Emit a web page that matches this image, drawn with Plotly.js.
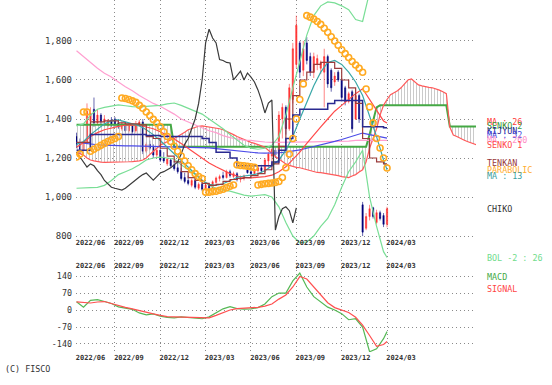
<!DOCTYPE html>
<html><head><meta charset="utf-8">
<script src="https://cdn.plot.ly/plotly-3.0.1.min.js"></script>
<style>html,body{margin:0;padding:0;background:#fff}#chart{width:552px;height:385px}</style>
</head><body><div id="chart"></div>
<script>
// ---------- tick labels ----------
const tickWeeks = [0, 11, 24, 37, 50, 63, 76, 89];
const tickLabels = ["2022/06","2022/09","2022/12","2023/03","2023/06","2023/09","2023/12","2024/03"];
const priceTicks = [800, 1000, 1200, 1400, 1600, 1800];
const priceTickText = ["800","1,000","1,200","1,400","1,600","1,800"];
const macdTicks = [-140, -70, 0, 70, 140];
const macdTickText = ["-140","-70","0","70","140"];

// ---------- weekly candles (week 0 .. 89) ----------
const candleOpen = [1310,1270,1240,1280,1390,1450,1380,1420,1385,1365,1395,1400,1380,1350,1375,1340,1365,1340,1370,1385,
1235,1270,1255,1215,1240,1200,1170,1190,1165,1150,1130,1100,1085,1060,1085,1045,1065,1040,1062,1045,
1075,1095,1110,1100,1130,1105,1120,1090,1098,1140,1130,1120,1135,1150,1130,1185,1210,1240,1220,1400,
1460,1350,1500,1680,1790,1650,1790,1720,1640,1680,1660,1640,1720,1650,1590,1640,1600,1560,1490,1540,
1400,1520,960,840,900,945,870,920,905,860];
const candleHigh = [1330,1300,1290,1480,1460,1510,1450,1430,1420,1400,1410,1410,1400,1390,1385,1380,1375,1390,1395,1400,
1280,1290,1270,1250,1245,1230,1200,1200,1185,1175,1150,1125,1110,1095,1098,1075,1085,1070,1072,1085,
1105,1115,1130,1140,1140,1130,1128,1110,1115,1150,1150,1145,1160,1165,1200,1230,1250,1255,1440,1480,
1470,1580,1790,1930,1800,1800,1820,1740,1740,1730,1700,1760,1730,1660,1640,1650,1610,1570,1540,1550,
1550,1530,975,918,960,950,935,930,918,950];
const candleLow = [1250,1225,1220,1270,1370,1360,1370,1370,1360,1355,1360,1360,1350,1340,1330,1330,1325,1330,1360,1220,
1225,1240,1200,1205,1180,1175,1160,1150,1135,1120,1085,1070,1060,1050,1040,1036,1030,1032,1030,1040,
1070,1080,1090,1095,1100,1098,1080,1075,1085,1120,1110,1110,1120,1125,1120,1150,1160,1200,1210,1300,
1320,1340,1480,1660,1610,1620,1680,1620,1610,1650,1630,1460,1560,1540,1570,1590,1490,1470,1480,1330,
1395,1380,800,830,880,890,860,880,846,845];
const candleClose = [1270,1245,1280,1440,1430,1380,1420,1385,1400,1390,1370,1370,1360,1375,1340,1365,1335,1370,1385,1235,
1270,1250,1215,1240,1190,1185,1195,1160,1145,1130,1095,1080,1070,1085,1050,1065,1040,1062,1045,1078,
1098,1105,1100,1130,1110,1120,1090,1100,1108,1125,1120,1140,1150,1135,1190,1220,1245,1215,1420,1460,
1350,1560,1760,1880,1640,1760,1700,1640,1720,1710,1690,1720,1580,1560,1620,1600,1510,1490,1530,1350,
1520,1400,820,900,940,900,920,890,860,940];
const candleWeeks = candleClose.map((_, i) => i);

// ---------- indicator lines, sampled every 2 weeks (weeks 0..88, then 89) ----------
const lineWeeks = [0,2,4,6,8,10,12,14,16,18,20,22,24,26,28,30,32,34,36,38,40,42,44,46,48,50,52,54,56,58,60,62,64,66,68,70,72,74,76,78,80,82,84,86,88,89];
const ma260 = [1750,1720,1690,1660,1635,1615,1590,1565,1545,1520,1500,1480,1465,1445,1425,1400,1385,1370,1355,1340,1330,1315,1305,1298,1292,1290,1285,1282,1280,1280,1280,1280,1282,1283,1283,1284,1284,1285,1285,1287,1290,1292,1290,1290,1290,1290];
const ma52 = [1280,1275,1270,1268,1266,1264,1262,1262,1262,1261,1260,1260,1260,1259,1258,1258,1257,1256,1255,1252,1248,1244,1240,1236,1232,1229,1226,1225,1225,1227,1230,1235,1242,1250,1258,1266,1275,1285,1295,1305,1316,1328,1320,1312,1304,1302];
const ma26 = [1255,1280,1310,1330,1345,1355,1362,1368,1370,1368,1360,1350,1335,1318,1298,1275,1250,1225,1200,1175,1155,1138,1120,1108,1100,1098,1100,1105,1112,1130,1155,1190,1230,1275,1320,1360,1400,1440,1470,1500,1530,1555,1500,1440,1390,1380];
const ma13 = [1270,1285,1320,1350,1375,1390,1395,1385,1375,1365,1345,1320,1290,1255,1220,1190,1150,1115,1085,1065,1060,1068,1085,1100,1108,1112,1120,1135,1160,1190,1240,1310,1400,1490,1570,1640,1690,1700,1680,1640,1590,1520,1420,1310,1190,1140];
const tenkan = [1280,1280,1385,1385,1390,1390,1380,1375,1375,1370,1310,1300,1250,1210,1180,1130,1100,1085,1070,1060,1065,1080,1090,1095,1100,1110,1120,1140,1170,1260,1400,1520,1600,1640,1680,1690,1690,1660,1600,1560,1480,1300,1200,1180,1170,1170];
const kijun = [1240,1240,1320,1320,1320,1320,1320,1320,1320,1320,1315,1315,1310,1310,1310,1310,1310,1310,1300,1280,1230,1230,1200,1160,1160,1160,1160,1160,1180,1240,1300,1420,1450,1450,1450,1450,1480,1495,1495,1495,1495,1360,1360,1360,1355,1355];
const bolUpper = [1365,1375,1420,1450,1460,1465,1472,1468,1463,1462,1465,1467,1470,1478,1482,1470,1455,1440,1425,1400,1375,1350,1320,1290,1265,1250,1245,1250,1265,1310,1420,1560,1700,1830,1930,1980,2000,1995,1980,1960,1910,1900,2050,2150,2250,2300];
const bolLower = [1045,1045,1048,1050,1060,1085,1115,1130,1145,1165,1190,1200,1205,1200,1195,1165,1140,1115,1085,1060,1045,1035,1030,1020,1010,1005,1010,1012,1000,950,870,800,765,770,800,850,890,960,1050,1130,1180,1240,1000,850,720,690];

// ---------- ichimoku cloud, weekly incl. 26 weeks ahead (weeks 0..115) ----------
const senko1 = [1230,1222,1215,1200,1190,1185,1180,1179,1178,1178,1178,1179,1180,1180,1180,1181,1182,1183,1185,1190,
1200,1218,1235,1250,1265,1275,1285,1292,1300,1310,1320,1332,1345,1352,1360,1363,1365,1362,1360,1358,
1355,1350,1345,1338,1330,1320,1310,1302,1295,1288,1280,1275,1270,1262,1255,1238,1220,1208,1195,1182,
1170,1162,1155,1152,1150,1145,1140,1134,1128,1126,1125,1122,1120,1118,1115,1110,1105,1102,1100,1108,
1115,1128,1140,1180,1250,1300,1350,1420,1470,1500,1525,1535,1545,1560,1580,1600,1605,1590,1575,1570,
1565,1562,1560,1555,1548,1540,1530,1359,1318,1310,1300,1292,1285,1278,1270,1265];
const senko2 = [1370,1370,1370,1370,1370,1370,1370,1370,1370,1370,1370,1370,1370,1370,1370,1370,1370,1370,1370,1370,
1370,1370,1370,1370,1370,1370,1370,1370,1258,1258,1258,1258,1258,1258,1258,1258,1258,1258,1258,1258,
1258,1258,1258,1258,1258,1258,1258,1258,1258,1258,1258,1258,1258,1258,1258,1258,1258,1258,1258,1258,
1258,1258,1258,1258,1258,1258,1258,1258,1258,1258,1258,1258,1258,1258,1258,1258,1258,1258,1258,1258,
1258,1258,1258,1258,1320,1390,1460,1470,1470,1470,1470,1470,1470,1470,1470,1470,1470,1470,1470,1470,
1470,1470,1470,1470,1470,1470,1470,1362,1362,1362,1362,1362,1362,1362,1362,1362];
const cloudWeeks = senko1.map((_, i) => i);

// ---------- parabolic SAR, weekly (weeks 0..89) ----------
const parabolic = [1205,1220,1436,1436,1235,1245,1255,1265,1275,1285,1293,1300,1310,1508,1505,1500,1493,1485,1470,1455,
1436,1418,1398,1380,1360,1335,1310,1285,1260,1235,1210,1185,1160,1140,1120,1105,1095,1025,1025,1028,
1030,1035,1040,1048,1055,1062,1165,1162,1160,1158,1155,1152,1062,1065,1068,1070,1072,1075,1080,1100,
1150,1220,1300,1400,1500,1580,1930,1922,1912,1900,1885,1865,1845,1822,1800,1778,1755,1735,1715,1695,
1677,1660,1640,1554,1462,1380,1300,1251,1200,1149];

// ---------- chiko span, weekly (weeks 0..63) ----------
const chiko = [1231,1205,1180,1154,1170,1160,1135,1115,1085,1065,1050,1045,1040,1036,1045,1060,1072,1090,1103,1115,
1123,1105,1087,1105,1123,1130,1138,1150,1165,1180,1220,1270,1300,1350,1400,1480,1600,1790,1860,1815,
1790,1705,1700,1690,1687,1600,1625,1645,1600,1636,1615,1590,1549,1497,1431,1482,1497,831,900,940,
950,930,868,944];
const chikoWeeks = chiko.map((_, i) => i);

// ---------- MACD panel (every 2 weeks) ----------
const macd = [34,12,40,43,35,27,13,9,3,-12,-20,-16,-25,-30,-32,-28,-31,-36,-36,-28,-10,5,14,6,4,5,10,25,55,70,70,120,152,95,55,32,12,0,-15,-40,-36,-70,-172,-160,-118,-89];
const signal = [34,30,29,33,35,27,18,11,5,-3,-9,-16,-22,-27,-28,-29,-29,-30,-32,-32,-22,-10,0,6,8,8,11,16,25,45,62,95,138,128,95,62,30,10,0,-10,-30,-62,-105,-150,-142,-130];

// ---------- end labels ----------
const endLabels = [
  {text: "MA : 26",   color: "#ff3b3b", y: 1384},
  {text: "SENKO 2",   color: "#3a9a3a", y: 1362},
  {text: "KIJYUN",    color: "#2b2b8f", y: 1340},
  {text: "MA : 52",   color: "#4b4be0", y: 1317},
  {text: "MA : 260",  color: "#ff8fc8", y: 1294},
  {text: "SENKO 1",   color: "#ff4a4a", y: 1266},
  {text: "TENKAN",    color: "#993838", y: 1176},
  {text: "PARABOLIC", color: "#ffad2e", y: 1140},
  {text: "MA : 13",   color: "#3a9f9f", y: 1106},
  {text: "CHIKO",     color: "#333333", y: 938},
  {text: "BOL -2 : 26", color: "#6fdc8c", y: 687}
];
const macdLabels = [
  {text: "MACD", color: "#44aa44", y: 136},
  {text: "SIGNAL", color: "#ff4444", y: 86}
];

const MONO = "DejaVu Sans Mono";
const lw = 1.2;
function line(x, y, color, extra) {
  return Object.assign({type: "scatter", mode: "lines", x: x, y: y, xaxis: "x", yaxis: "y",
    line: {color: color, width: lw}, hoverinfo: "skip"}, extra || {});
}

const traces = [
  line(cloudWeeks, senko2, "#44a844", {line: {color: "#44a844", width: 2}}),
  line(cloudWeeks, senko1, "#ff5a5a", {fill: "tonexty", fillcolor: "rgba(0,0,0,0)",
    fillpattern: {shape: "|", size: 3, solidity: 0.25, fgcolor: "#b8b8b8", bgcolor: "rgba(0,0,0,0)"}}),
  line(lineWeeks, ma260, "#ff9fd0"),
  line(lineWeeks, ma52, "#4b4be8"),
  line(lineWeeks, bolUpper, "#79de96"),
  line(lineWeeks, bolLower, "#79de96"),
  line(lineWeeks, ma26, "#ff4a4a"),
  line(lineWeeks, ma13, "#3aa8a8"),
  line(lineWeeks, tenkan, "#9a3c3c", {line: {color: "#9a3c3c", width: lw, shape: "hv"}}),
  line(lineWeeks, kijun, "#2a2a90", {line: {color: "#2a2a90", width: 1.5, shape: "hv"}}),
  line(chikoWeeks, chiko, "#3a3a3a"),
  {type: "candlestick", x: candleWeeks, open: candleOpen, high: candleHigh, low: candleLow, close: candleClose,
   xaxis: "x", yaxis: "y", whiskerwidth: 0, hoverinfo: "skip",
   increasing: {line: {color: "#ff3030", width: 0.6}, fillcolor: "#ff3030"},
   decreasing: {line: {color: "#00007a", width: 0.6}, fillcolor: "#00007a"}},
  {type: "scatter", mode: "markers", x: candleWeeks, y: parabolic, xaxis: "x", yaxis: "y", hoverinfo: "skip",
   marker: {symbol: "circle-open", size: 6, color: "#ffaa22", line: {width: 1.6, color: "#ffaa22"}}},
  {type: "scatter", mode: "lines", x: lineWeeks, y: macd, xaxis: "x2", yaxis: "y2", hoverinfo: "skip",
   line: {color: "#55b855", width: lw}},
  {type: "scatter", mode: "lines", x: lineWeeks, y: signal, xaxis: "x2", yaxis: "y2", hoverinfo: "skip",
   line: {color: "#ff5050", width: lw}}
];

const xRange = [-0.15, 114.5];
const grid = {showgrid: true, gridcolor: "#8a8a8a", griddash: "1px,3px", gridwidth: 1, zeroline: false, showline: false, ticks: ""};
const xFont = {family: MONO, size: 7, color: "#333", weight: "bold"};
const splitFrac = 82 / 352;

const annotations = endLabels.map(l => ({xref: "paper", yref: "y", x: 1.0225, y: l.y, xanchor: "left", yanchor: "middle",
  text: l.text, showarrow: false, font: {family: MONO, size: 8.4, color: l.color}}))
  .concat(macdLabels.map(l => ({xref: "paper", yref: "y2", x: 1.0225, y: l.y, xanchor: "left", yanchor: "middle",
  text: l.text, showarrow: false, font: {family: MONO, size: 8.4, color: l.color}})))
  .concat([{xref: "paper", yref: "paper", x: -0.1825, y: -0.048, xanchor: "left", yanchor: "middle",
  text: "(C) FISCO", showarrow: false, font: {family: MONO, size: 8.4, color: "#333"}}]);

const layout = {
  width: 552, height: 385, margin: {l: 76, r: 76, t: 0, b: 33},
  paper_bgcolor: "#fff", plot_bgcolor: "#fff", showlegend: false, boxgap: 0.5,
  xaxis: Object.assign({range: xRange, domain: [0, 1], anchor: "y", tickvals: tickWeeks, ticktext: tickLabels,
    showticklabels: false, rangeslider: {visible: false}}, grid),
  xaxis3: {range: xRange, overlaying: "x", anchor: "free", position: 0.327, tickvals: tickWeeks, ticktext: tickLabels,
    showgrid: false, zeroline: false, showline: false, ticks: "", tickfont: xFont, ticklabelshift: 14},
  xaxis2: Object.assign({range: xRange, domain: [0, 1], anchor: "y2", tickvals: tickWeeks, ticktext: tickLabels,
    tickfont: xFont, ticklabelshift: 14}, grid),
  xaxis4: {range: xRange, overlaying: "x2", anchor: "y2", side: "top", tickvals: tickWeeks, ticktext: tickLabels,
    showgrid: false, zeroline: false, showline: false, ticks: "", tickfont: xFont, ticklabelshift: 14},
  yaxis: Object.assign({domain: [splitFrac, 1], range: [626, 2010], tickvals: priceTicks, ticktext: priceTickText,
    tickfont: {family: MONO, size: 9, color: "#333"}, ticklabelstandoff: 3}, grid),
  yaxis2: Object.assign({domain: [0, splitFrac], range: [-173, 165], tickvals: macdTicks, ticktext: macdTickText,
    tickfont: {family: MONO, size: 8.4, color: "#333"}, ticklabelstandoff: 3}, grid),
  annotations: annotations
};

// empty helper traces so the label-only axes are drawn
traces.push({type: "scatter", mode: "lines", x: [0], y: [1000], xaxis: "x3", yaxis: "y", hoverinfo: "skip", line: {width: 0}, showlegend: false});
traces.push({type: "scatter", mode: "lines", x: [0], y: [0], xaxis: "x4", yaxis: "y2", hoverinfo: "skip", line: {width: 0}, showlegend: false});

Plotly.newPlot("chart", traces, layout, {staticPlot: true, displayModeBar: false});
</script></body></html>
